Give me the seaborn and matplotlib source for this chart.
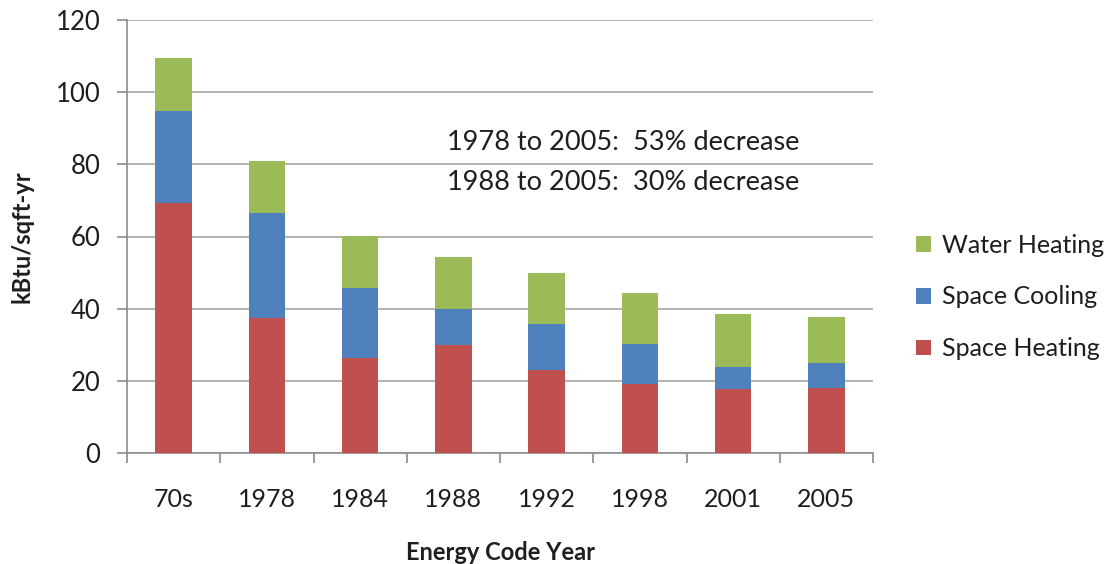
import matplotlib
matplotlib.use("Agg")
import matplotlib.pyplot as plt
import seaborn as sns
import numpy as np
import pandas as pd
from matplotlib.patches import Patch

# ---- data ----
categories = ["70s", "1978", "1984", "1988", "1992", "1998", "2001", "2005"]
space_heating = [69.4, 37.4, 26.2, 29.8, 23.1, 19.1, 17.6, 17.9]
space_cooling = [25.5, 29.2, 19.5, 10.1, 12.7, 11.1, 6.3, 7.1]
water_heating = [14.5, 14.4, 14.4, 14.5, 14.0, 14.1, 14.5, 12.6]
series_names = ["Space Heating", "Space Cooling", "Water Heating"]
y_ticks = [0, 20, 40, 60, 80, 100, 120]
annotation_lines = ["1978 to 2005:  53% decrease", "1988 to 2005:  30% decrease"]

colors = {"Space Heating": "#C0504D", "Space Cooling": "#4F81BD", "Water Heating": "#9BBB59"}

df = pd.DataFrame({
    "cat": categories,
    "Space Heating": space_heating,
    "Space Cooling": space_cooling,
    "Water Heating": water_heating,
})
df["cum_heat"] = df["Space Heating"]
df["cum_cool"] = df["cum_heat"] + df["Space Cooling"]
df["cum_water"] = df["cum_cool"] + df["Water Heating"]

sns.set_style("white")
plt.rcParams["font.family"] = ["Lato", "DejaVu Sans"]

fig = plt.figure(figsize=(11.07, 5.64), dpi=100)
ax = fig.add_axes([127 / 1107, 1 - 453 / 564, (873 - 127) / 1107, (453 - 20) / 564])

text_color = "#1e1e1e"
grid_color = "#a6a6a6"

# stacked by overlaying cumulative totals (largest first)
for col, name in [("cum_water", "Water Heating"), ("cum_cool", "Space Cooling"), ("cum_heat", "Space Heating")]:
    sns.barplot(data=df, x="cat", y=col, color=colors[name], saturation=1,
                width=0.39, linewidth=0, errorbar=None, ax=ax, zorder=3)

ax.set_ylim(0, 120)
ax.set_xlim(-0.5, len(categories) - 0.5)
ax.set_yticks(y_ticks)
ax.yaxis.grid(True, color=grid_color, linewidth=1.2, zorder=0)
ax.xaxis.grid(False)
ax.set_axisbelow(True)

for s in ["top", "right"]:
    ax.spines[s].set_visible(False)
for s in ["left", "bottom"]:
    ax.spines[s].set_color("#8c8c8c")
    ax.spines[s].set_linewidth(1.2)

# x ticks at category boundaries
ax.set_xticks(np.arange(len(categories)))
ax.set_xticklabels(categories)
ax.set_xticks(np.arange(-0.5, len(categories)), minor=True)
ax.tick_params(axis="x", which="major", length=0, pad=25, labelsize=18, labelcolor=text_color)
ax.tick_params(axis="x", which="minor", length=7, width=1.2, color="#8c8c8c", direction="out")
ax.tick_params(axis="y", which="major", length=7, width=1.2, color="#8c8c8c", direction="out",
               pad=12, labelsize=18.5, labelcolor=text_color)
ax.tick_params(bottom=True, left=True, which="both")

ax.set_xlabel("Energy Code Year", fontsize=17, fontweight="bold", color=text_color, labelpad=22)
ax.set_ylabel("kBtu/sqft-yr", fontsize=17, fontweight="bold", color=text_color, labelpad=16)

# annotation
ax.text(0.429, (453 - 143) / 433, annotation_lines[0], transform=ax.transAxes,
        fontsize=19.5, color=text_color, ha="left", va="center")
ax.text(0.429, (453 - 182) / 433, annotation_lines[1], transform=ax.transAxes,
        fontsize=19.5, color=text_color, ha="left", va="center")

# legend
handles = [Patch(facecolor=colors[n], edgecolor="none", label=n) for n in reversed(series_names)]
fig.legend(handles=handles, loc="center left", bbox_to_anchor=(893 / 1107, 1 - 297 / 564),
           frameon=False, fontsize=18, handlelength=0.6, handleheight=0.6,
           handletextpad=0.45, labelspacing=1.15, labelcolor=text_color)

fig.savefig("out.png", dpi=100)
